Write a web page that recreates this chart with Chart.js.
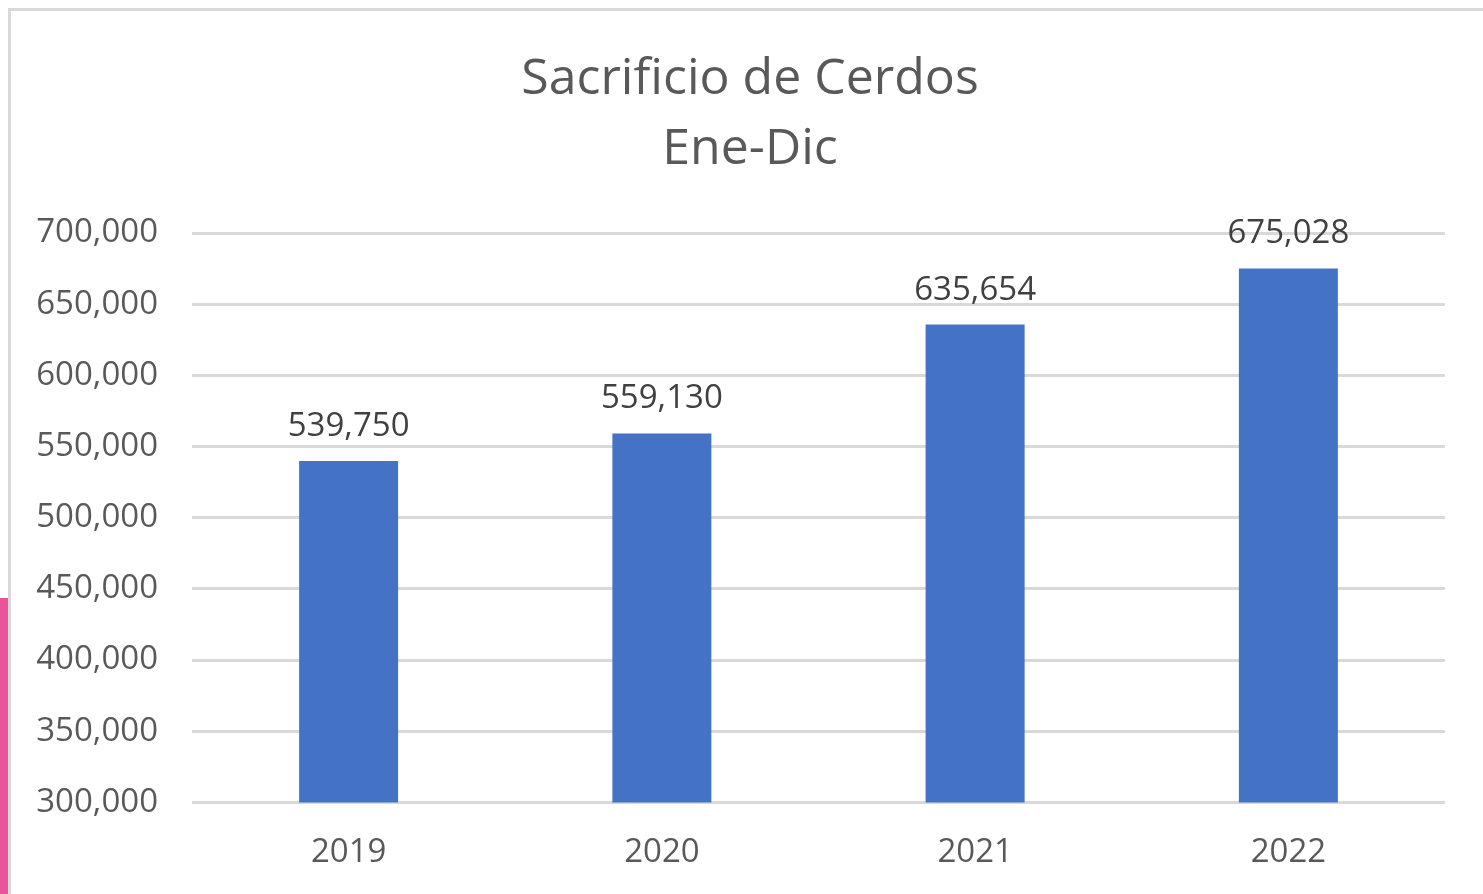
<!DOCTYPE html>
<html>
<head>
<meta charset="utf-8">
<script src="https://cdn.jsdelivr.net/npm/chart.js@4"></script>
<style>
  body { margin: 0; background: #fff; overflow: hidden; }
  #frame {
    position: absolute; left: 8px; top: 8px; width: 1475px; height: 886px;
    border-left: 3px solid #d9d9d9; border-top: 3px solid #d9d9d9;
  }
  #strip { position: absolute; left: 0; top: 598px; width: 8px; height: 296px; background: #e8559a; }
  #wrap { position: absolute; left: 0; top: 0; width: 1483px; height: 894px; }
</style>
</head>
<body>
<div id="frame"></div>
<div id="strip"></div>
<div id="wrap"><canvas id="chart"></canvas></div>
<script>
const years = ["2019", "2020", "2021", "2022"];
const cerdos = [539750, 559130, 635654, 675028];
const titleLines = ["Sacrificio de Cerdos", "Ene-Dic"];

const fontName = "'Open Sans', sans-serif";
const fmt = v => v.toLocaleString("en-US");

// title centred over the framed box, not the canvas
const boxTitle = {
  id: "boxTitle",
  beforeDraw(chart) {
    const ctx = chart.ctx;
    ctx.save();
    ctx.font = `50px ${fontName}`;
    ctx.fillStyle = "#595959";
    ctx.textAlign = "center";
    ctx.textBaseline = "middle";
    titleLines.forEach((t, i) => ctx.fillText(t, 750, 80 + i * 70));
    ctx.restore();
  }
};

// draws the value over each bar
const barLabels = {
  id: "barLabels",
  afterDatasetsDraw(chart) {
    const ctx = chart.ctx;
    ctx.save();
    ctx.font = `33px ${fontName}`;
    ctx.fillStyle = "#404040";
    ctx.textAlign = "center";
    ctx.textBaseline = "bottom";
    chart.getDatasetMeta(0).data.forEach((bar, i) => {
      ctx.fillText(fmt(cerdos[i]), bar.x, bar.y - 18);
    });
    ctx.restore();
  }
};

new Chart(document.getElementById("chart"), {
  type: "bar",
  data: {
    labels: years,
    datasets: [{
      data: cerdos,
      backgroundColor: "#4472c4",
      categoryPercentage: 0.316,
      barPercentage: 1
    }]
  },
  options: {
    responsive: true,
    maintainAspectRatio: false,
    animation: false,
    layout: { padding: { left: 0, right: 38, top: 233, bottom: 0 } },
    plugins: {
      legend: { display: false },
      tooltip: { enabled: false },
      title: { display: false }
    },
    scales: {
      x: {
        grid: { display: false },
        border: { display: false },
        ticks: { color: "#595959", font: { family: fontName, size: 33 }, padding: 22 }
      },
      y: {
        min: 300000,
        max: 700000,
        afterFit: s => { s.width = 192; },
        grid: { color: "#d9d9d9", lineWidth: 3, drawTicks: false },
        border: { display: false },
        ticks: {
          stepSize: 50000,
          color: "#595959",
          font: { family: fontName, size: 33, lineHeight: 1.0 },
          padding: 34,
          callback: v => fmt(v)
        }
      }
    }
  },
  plugins: [boxTitle, barLabels]
});
</script>
</body>
</html>
